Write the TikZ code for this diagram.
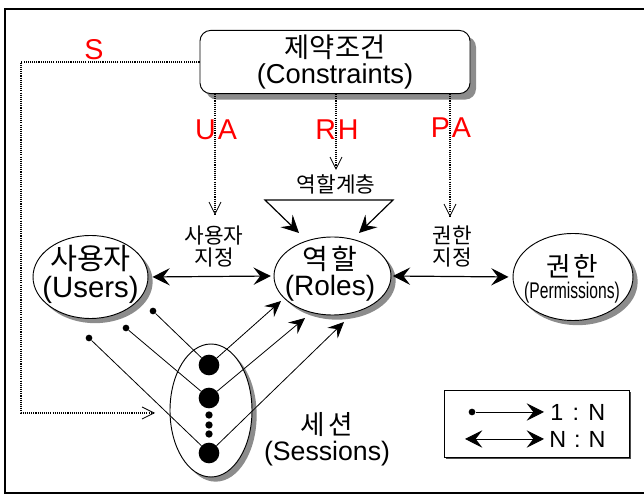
\documentclass[tikz,border=0pt]{standalone}
\usepackage{fontspec}
\setmainfont{Liberation Sans}
\newfontfamily\kr{Noto Sans CJK KR}
\usetikzlibrary{arrows.meta,shapes.geometric,shadows}
\newcommand\kt[1]{{\kr #1}}

\begin{document}
\begin{tikzpicture}[x=0.75pt,y=-0.75pt,
  boxshadow/.style={drop shadow={shadow xshift=3.5pt,shadow yshift=-3.5pt,fill=black!45,opacity=1}},
  ent/.style={ellipse,draw,fill=white,line width=0.7pt,inner sep=0pt,boxshadow},
  lbl/.style={align=center,inner sep=0pt},
  dotline/.style={line width=1.1pt,dash pattern=on 0.8pt off 0.8pt},
  vtip/.style={-{Straight Barb[length=9pt,width=9pt,line width=0.6pt]}},
  big/.style={-{Stealth[length=13pt,width=13pt,inset=5pt]}},
  mid/.style={-{Stealth[length=12pt,width=11pt,inset=4.5pt]}},
  bigtwo/.style={{Stealth[length=13pt,width=13pt,inset=5pt]}-{Stealth[length=13pt,width=13pt,inset=5pt]}},
  redlbl/.style={text=red,font=\fontsize{21.5}{21.5}\selectfont,inner sep=0pt},
  sdot/.style={circle,fill=black,inner sep=0pt,minimum size=5pt},
  bdot/.style={circle,fill=black,inner sep=0pt,minimum size=15.5pt},
  mdot/.style={circle,fill=black,inner sep=0pt,minimum size=5.5pt},
  thin line/.style={line width=0.6pt}
]
\clip (0,0) rectangle (644,495);
\useasboundingbox (0,0) rectangle (644,495);

% outer frame (open to the right)
\draw[line width=2pt] (5,9) rectangle (720,493);

% constraints box
\node[draw,fill=white,rounded corners=8pt,line width=0.7pt,
      minimum width=202.5pt,minimum height=43.5pt,align=center,
      drop shadow={shadow xshift=4.5pt,shadow yshift=-4.5pt,fill=black!45,opacity=1},
      font=\fontsize{20.5}{19.5}\selectfont] (c) at (335,62)
  {\kt{제약조건}\\(Constraints)};

% entity ellipses
\node[ent,minimum width=86.25pt,minimum height=62.25pt] (u) at (90.5,277) {};
\node[lbl,font=\fontsize{22}{21}\selectfont] (ut) at (90.5,274) {\kt{사용자}\\(Users)};

\node[ent,minimum width=87.75pt,minimum height=58.5pt] (r) at (332.5,276) {};
\node[lbl,font=\fontsize{21}{19.5}\selectfont] (rt) at (330,274) {\kt{역\kern3pt 할}\\(Roles)};

\node[ent,minimum width=90pt,minimum height=65.25pt] (p) at (573,277) {};
\node[lbl,font=\fontsize{20}{16}\selectfont] (pt) at (572,279)
  {\kt{권\kern2pt 한}\\{\fontsize{17}{16}\selectfont\scalebox{0.69}[1]{(Permissions)}}};

\node[ent,minimum width=61.5pt,minimum height=99.75pt] (s) at (211,410.5) {};
\node[lbl,font=\fontsize{20}{19.5}\selectfont] (st) at (327,439) {\kt{세\kern3pt 션}\\(Sessions)};

% session dots
\node[bdot] (s1) at (209,365) {};
\node[bdot] (s2) at (209,398) {};
\node[mdot] (m1) at (209,415) {};
\node[mdot] (m2) at (209,425) {};
\node[mdot] (m3) at (209,434) {};
\node[bdot] (s4) at (209,453) {};

% user-side dots
\node[sdot] (d1) at (153,311) {};
\node[sdot] (d2) at (126,328) {};
\node[sdot] (d3) at (89,338) {};

\draw[thin line] (d1) -- (s1);
\draw[thin line] (d2) -- (s2);
\draw[thin line] (d3) -- (s4);

% session-to-role arrows
\coordinate (t1) at (281,301);
\coordinate (t2) at (305,318);
\coordinate (t3) at (344,322);
\draw[thin line,mid] (s1) -- (t1);
\draw[thin line,mid] (s2) -- (t2);
\draw[thin line,mid] (s4) -- (t3);

% assignments
\draw[line width=0.9pt,bigtwo,shorten <=3pt,shorten >=2pt] (u.east) -- (r.west);
\draw[line width=0.9pt,bigtwo,shorten <=1pt,shorten >=3pt] (r.east) -- (p.west);
\node[lbl,font=\fontsize{16}{16.5}\selectfont] (ua) at (214,247) {\kt{사용자}\\\kt{지정}};
\node[lbl,font=\fontsize{16}{16.5}\selectfont] (pa) at (452,247) {\kt{권한}\\\kt{지정}};

% role hierarchy
\node[lbl,font=\fontsize{16}{16}\selectfont] (rh) at (336,184) {\kt{역할계층}};
\coordinate (h1) at (299,233);
\coordinate (tl) at (265,200);
\coordinate (tr) at (393,200);
\coordinate (h2) at (359,233);
\draw[line width=0.9pt,bigtwo] (h1) -- (tl) -- (tr) -- (h2);

% constraint links
\coordinate (uaEnd) at (215,215);
\coordinate (rhEnd) at (336,170);
\coordinate (paEnd) at (450,217);
\draw[dotline,vtip] (c.south -| uaEnd) -- (uaEnd);
\draw[dotline,vtip] (c.south -| rhEnd) -- (rhEnd);
\draw[dotline,vtip] (c.south -| paEnd) -- (paEnd);
\coordinate (sCorner) at (21,413);
\coordinate (sEnd) at (155,413);
\draw[dotline,vtip] (c.west) -| (sCorner) -- (sEnd);

\node[redlbl] (lS) at (94,50) {S};
\node[redlbl] (lUA) at (216,130) {U\kern1.5pt A};
\node[redlbl] (lRH) at (337,130) {R\kern1.5pt H};
\node[redlbl] (lPA) at (451,128) {P\kern1.5pt A};

% legend
\node[draw,fill=white,line width=0.7pt,minimum width=138.75pt,minimum height=50.25pt,
      drop shadow={shadow xshift=1.2pt,shadow yshift=-1.2pt,fill=black!70,opacity=1}] (lg) at (536.5,423.5) {};
\node[sdot] (k1) at (472,412) {};
\coordinate (k1e) at (544,412);
\draw[line width=0.7pt,big] (k1) -- (k1e);
\coordinate (k2a) at (465,439);
\coordinate (k2b) at (544,439);
\draw[line width=0.7pt,bigtwo] (k2a) -- (k2b);
\node[lbl,anchor=west,font=\fontsize{17.5}{17.5}\selectfont] (k1t) at (550,412) {1\kern7pt:\kern7pt N};
\node[lbl,anchor=west,font=\fontsize{17.5}{17.5}\selectfont] (k2t) at (549,439) {N\kern6pt:\kern6pt N};
\end{tikzpicture}
\end{document}
